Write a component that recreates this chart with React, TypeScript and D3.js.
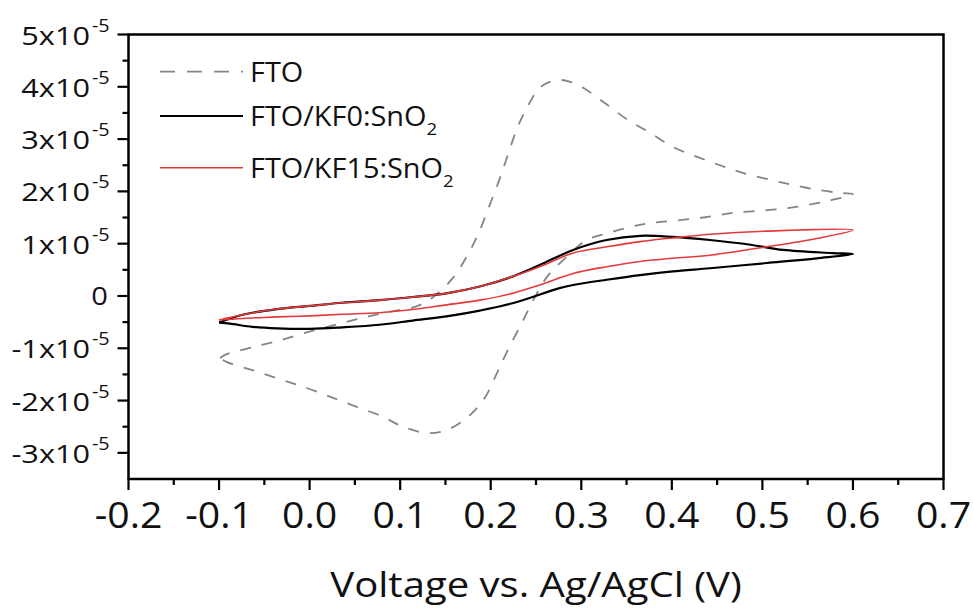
import React from "react";
import * as d3 from "d3";

// ---- data (current in units of 1e-5 A, voltage in V vs Ag/AgCl) ----
const currentUnit = 1e-5;

const ftoVoltage = [
  -0.099, -0.094, -0.063, -0.033, 0.0, 0.033, 0.063, 0.092, 0.118, 0.138, 0.158, 0.175, 0.187, 0.198, 0.209,
  0.219, 0.229, 0.24, 0.252, 0.262, 0.277, 0.287, 0.302, 0.326, 0.351, 0.376, 0.401, 0.428, 0.453, 0.479,
  0.509, 0.534, 0.561, 0.586, 0.6,
  0.578, 0.556, 0.528, 0.498, 0.468, 0.439, 0.409, 0.379, 0.354, 0.329, 0.306, 0.284, 0.262, 0.247, 0.236,
  0.219, 0.207, 0.194, 0.177, 0.152, 0.13, 0.103, 0.081, 0.052, 0.026, -0.003, -0.033, -0.063, -0.092, -0.099,
];
const ftoCurrent = [
  -1.19, -1.13, -0.98, -0.85, -0.68, -0.53, -0.4, -0.29, -0.2, 0.0, 0.34, 0.8, 1.22, 1.7, 2.2,
  2.7, 3.2, 3.6, 3.94, 4.07, 4.13, 4.1, 3.98, 3.69, 3.37, 3.12, 2.85, 2.66, 2.5, 2.35,
  2.22, 2.12, 2.03, 1.97, 1.95,
  1.84, 1.76, 1.68, 1.63, 1.59, 1.51, 1.45, 1.4, 1.32, 1.2, 1.07, 0.75, 0.36, -0.08, -0.46,
  -1.03, -1.47, -1.93, -2.28, -2.56, -2.62, -2.5, -2.31, -2.12, -1.95, -1.76, -1.59, -1.42, -1.26, -1.19,
];

const kf0Voltage = [
  -0.1, -0.074, -0.036, 0.0, 0.036, 0.077, 0.114, 0.151, 0.188, 0.224, 0.254, 0.291, 0.328, 0.365, 0.401,
  0.442, 0.487, 0.523, 0.578, 0.6,
  0.56, 0.505, 0.442, 0.401, 0.365, 0.328, 0.291, 0.276, 0.224, 0.188, 0.151, 0.114, 0.077, 0.036, 0.0,
  -0.036, -0.063, -0.088, -0.1,
];
const kf0Current = [
  -0.51, -0.36, -0.25, -0.19, -0.13, -0.08, -0.02, 0.05, 0.18, 0.37, 0.59, 0.88, 1.07, 1.15, 1.13,
  1.07, 0.98, 0.88, 0.82, 0.8,
  0.72, 0.63, 0.53, 0.47, 0.4, 0.31, 0.21, 0.15, -0.14, -0.28, -0.39, -0.47, -0.55, -0.6, -0.63,
  -0.62, -0.59, -0.53, -0.51,
];

const kf15Voltage = [
  -0.1, -0.074, -0.036, 0.0, 0.036, 0.077, 0.114, 0.151, 0.188, 0.224, 0.254, 0.291, 0.328, 0.365, 0.401,
  0.442, 0.505, 0.6,
  0.56, 0.505, 0.442, 0.401, 0.365, 0.328, 0.291, 0.254, 0.224, 0.188, 0.151, 0.114, 0.077, 0.036, 0.0,
  -0.036, -0.074, -0.1,
];
const kf15Current = [
  -0.46, -0.36, -0.25, -0.19, -0.13, -0.08, -0.02, 0.05, 0.18, 0.37, 0.56, 0.82, 0.94, 1.04, 1.11,
  1.18, 1.24, 1.26,
  1.1, 0.94, 0.78, 0.72, 0.66, 0.56, 0.43, 0.21, 0.05, -0.08, -0.17, -0.26, -0.32, -0.35, -0.38,
  -0.4, -0.43, -0.46,
];

const xTickValues = [-0.2, -0.1, 0.0, 0.1, 0.2, 0.3, 0.4, 0.5, 0.6, 0.7];
const xTickLabels = ["-0.2", "-0.1", "0.0", "0.1", "0.2", "0.3", "0.4", "0.5", "0.6", "0.7"];
const yTickMantissas = [-3, -2, -1, 0, 1, 2, 3, 4, 5];
const xTitle = "Voltage vs. Ag/AgCl (V)";
const legendLabels = ["FTO", "FTO/KF0:SnO", "FTO/KF15:SnO"];
const legendSubscripts = ["", "2", "2"];

// ---- layout ----
const W = 974;
const H = 608;
const plotLeft = 128.5;
const plotRight = 943.5;
const plotTop = 34.5;
const plotBottom = 479;
const FONT = "'Open Sans', sans-serif";
const TEXT = "#111";

const x = d3.scaleLinear().domain([-0.2, 0.7]).range([plotLeft, plotRight]);
const y = d3.scaleLinear().domain([-3.5e-5, 5e-5]).range([plotBottom, plotTop]);

function makePath(vs: number[], is: number[]) {
  const pts: [number, number][] = vs.map((v, k) => [v, is[k] * currentUnit]);
  return d3
    .line<[number, number]>()
    .x((d) => x(d[0]))
    .y((d) => y(d[1]))
    .curve(d3.curveCatmullRom.alpha(0.5))(pts) as string;
}

const series = [
  { v: ftoVoltage, i: ftoCurrent, color: "#858585", width: 1.8, dash: "11,11" },
  { v: kf0Voltage, i: kf0Current, color: "#000000", width: 2.2, dash: "" },
  { v: kf15Voltage, i: kf15Current, color: "#e5393b", width: 1.6, dash: "" },
];

function SText(props: {
  x: number;
  y: number;
  sx: number;
  anchor: "start" | "middle" | "end";
  size: number;
  children: React.ReactNode;
}) {
  return (
    <g transform={`translate(${props.x},${props.y}) scale(${props.sx},1)`}>
      <text x={0} y={0} textAnchor={props.anchor} fontSize={props.size} fill={TEXT}>
        {props.children}
      </text>
    </g>
  );
}

export default function App() {
  const xMinor = d3.range(-0.15, 0.7, 0.1);
  const yMinor = d3.range(-2.5, 5, 1);
  return (
    <svg
      width={W}
      height={H}
      style={{ position: "absolute", left: 0, top: 0, background: "#fff" }}
      fontFamily={FONT}
    >
      <rect x={0} y={0} width={W} height={H} fill="#fff" />
      {series.map((s, k) => (
        <path
          key={k}
          d={makePath(s.v, s.i)}
          fill="none"
          stroke={s.color}
          strokeWidth={s.width}
          strokeDasharray={s.dash || undefined}
          strokeLinejoin="round"
        />
      ))}
      <rect
        x={plotLeft}
        y={plotTop}
        width={plotRight - plotLeft}
        height={plotBottom - plotTop}
        fill="none"
        stroke="#000"
        strokeWidth={2.5}
      />
      {xTickValues.map((v, k) => (
        <g key={"xt" + k}>
          <line x1={x(v)} x2={x(v)} y1={plotBottom} y2={plotBottom + 11} stroke="#000" strokeWidth={2.2} />
          <SText x={x(v)} y={plotBottom + 49} sx={1.06} anchor="middle" size={37}>
            {xTickLabels[k]}
          </SText>
        </g>
      ))}
      {xMinor.map((v, k) => (
        <line key={"xm" + k} x1={x(v)} x2={x(v)} y1={plotBottom} y2={plotBottom + 6} stroke="#000" strokeWidth={2.2} />
      ))}
      {yTickMantissas.map((m, k) => {
        const yy = y(m * currentUnit);
        return (
          <g key={"yt" + k}>
            <line x1={plotLeft - 11} x2={plotLeft} y1={yy} y2={yy} stroke="#000" strokeWidth={2.2} />
            {m === 0 ? (
              <SText x={108} y={yy + 9} sx={1.12} anchor="end" size={26}>
                0
              </SText>
            ) : (
              <>
                <SText x={90} y={yy + 10} sx={1.18} anchor="end" size={26}>
                  {`${m}x10`}
                </SText>
                <SText x={92} y={yy - 3} sx={1.1} anchor="start" size={18}>
                  -5
                </SText>
              </>
            )}
          </g>
        );
      })}
      {yMinor.map((m, k) => (
        <line
          key={"ym" + k}
          x1={plotLeft - 6}
          x2={plotLeft}
          y1={y(m * currentUnit)}
          y2={y(m * currentUnit)}
          stroke="#000"
          strokeWidth={2.2}
        />
      ))}
      <SText x={(plotLeft + plotRight) / 2} y={597} sx={1.145} anchor="middle" size={35}>
        {xTitle}
      </SText>
      {legendLabels.map((lab, k) => {
        const ly = [71.7, 116, 167.7][k];
        const s = series[k];
        return (
          <g key={"lg" + k}>
            <line
              x1={160}
              x2={243}
              y1={ly}
              y2={ly}
              stroke={s.color}
              strokeWidth={s.width}
              strokeDasharray={s.dash ? "15,12" : undefined}
            />
            <SText x={250} y={ly + 10} sx={1.09} anchor="start" size={26.5}>
              {lab}
              {legendSubscripts[k] && (
                <tspan fontSize={17} dy={9}>
                  {legendSubscripts[k]}
                </tspan>
              )}
            </SText>
          </g>
        );
      })}
    </svg>
  );
}
